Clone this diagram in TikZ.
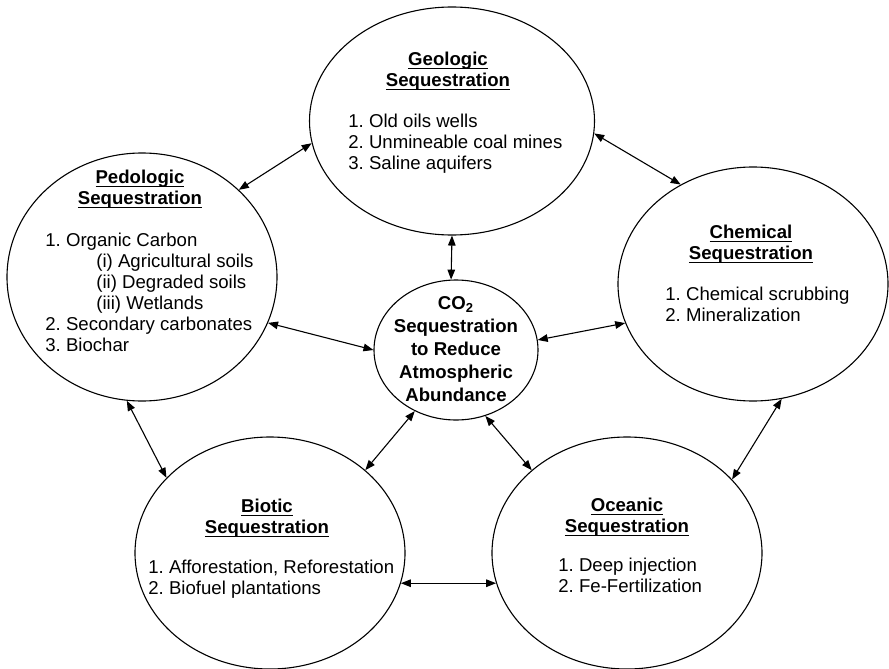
\documentclass[tikz,border=0pt]{standalone}
\usepackage{fontspec}
\setmainfont{Liberation Sans}
\usetikzlibrary{shapes.geometric}
\usetikzlibrary{arrows.meta}

\newcommand{\ulword}[1]{\setbox0=\hbox{#1}\rlap{\rule[-1.7pt]{\wd0}{0.65pt}}\box0}

\begin{document}
\frenchspacing
\begin{tikzpicture}[x=0.5pt, y=-0.5pt, font=\fontsize{9.3}{10.5}\selectfont]
    \tikzset{sphere/.style = {shape=ellipse, draw, line width=0.55pt, inner sep=0pt}}
    \tikzset{head/.style = {align=center, inner sep=0pt, anchor=north, font=\fontsize{9.3}{10.5}\selectfont\bfseries}}
    \tikzset{items/.style = {align=left, inner sep=0pt, anchor=north west}}
    \tikzset{hub/.style = {align=center, inner sep=0pt, font=\fontsize{9.3}{11.5}\selectfont\bfseries}}
    \tikzset{link/.style = {draw, line width=0.55pt, {Triangle[length=5pt,width=3.8pt]}-{Triangle[length=5pt,width=3.8pt]}}}

    \useasboundingbox (0,0) rectangle (889,669);

    % ellipses
    \node[sphere, minimum width=142.5pt, minimum height=114pt] (geo) at (452,121) {};
    \node[sphere, minimum width=135pt, minimum height=124pt] (ped) at (142,277) {};
    \node[sphere, minimum width=135pt, minimum height=117pt] (chem) at (753,284) {};
    \node[sphere, minimum width=82pt, minimum height=70pt] (co) at (456,350) {};
    \node[sphere, minimum width=135pt, minimum height=116pt] (bio) at (270,553) {};
    \node[sphere, minimum width=135pt, minimum height=116pt] (oce) at (627,553) {};

    % centre text
    \node[hub] (co-text) at (456,349) {CO\textsubscript{2}\\Sequestration\\to Reduce\\Atmospheric\\Abundance};

    % headings
    \node[head] (geo-head) at (448,52) {\ulword{Geologic}\\\ulword{Sequestration}};
    \node[head] (ped-head) at (140,170) {\ulword{Pedologic}\\\ulword{Sequestration}};
    \node[head] (chem-head) at (751,225) {\ulword{Chemical}\\\ulword{Sequestration}};
    \node[head] (bio-head) at (267,499) {\ulword{Biotic}\\\ulword{Sequestration}};
    \node[head] (oce-head) at (627,498) {\ulword{Oceanic}\\\ulword{Sequestration}};

    % lists
    \node[items] (geo-list) at (348,114) {1. Old oils wells\\2. Unmineable coal mines\\3. Saline aquifers};
    \node[items] (ped-list) at (45,233) {1. Organic Carbon\\\hspace*{25.5pt}(i) Agricultural soils\\\hspace*{25.5pt}(ii) Degraded soils\\\hspace*{25.5pt}(iii) Wetlands\\2. Secondary carbonates\\3. Biochar};
    \node[items] (chem-list) at (665,287) {1. Chemical scrubbing\\2. Mineralization};
    \node[items] (bio-list) at (148,560) {1. Afforestation, Reforestation\\2. Biofuel plantations};
    \node[items] (oce-list) at (558,558) {1. Deep injection\\2. Fe-Fertilization};

    % arrows
    \draw [link] (ped.42) -- (geo.189);
    \draw [link] (geo.-5.5) -- (chem.126);
    \draw [link] (geo.-90) -- (co.94);
    \draw [link] (ped.-20) -- (co.180);
    \draw [link] (chem.197) -- (co.7);
    \draw [link] (co.236.5) -- (bio.41);
    \draw [link] (co.294.5) -- (oce.139.5);
    \draw [link] (ped.263) -- (bio.144.7);
    \draw [link] (chem.284) -- (oce.35.4);
    \draw [link] (bio.-13) -- (oce.193);
\end{tikzpicture}
\end{document}
